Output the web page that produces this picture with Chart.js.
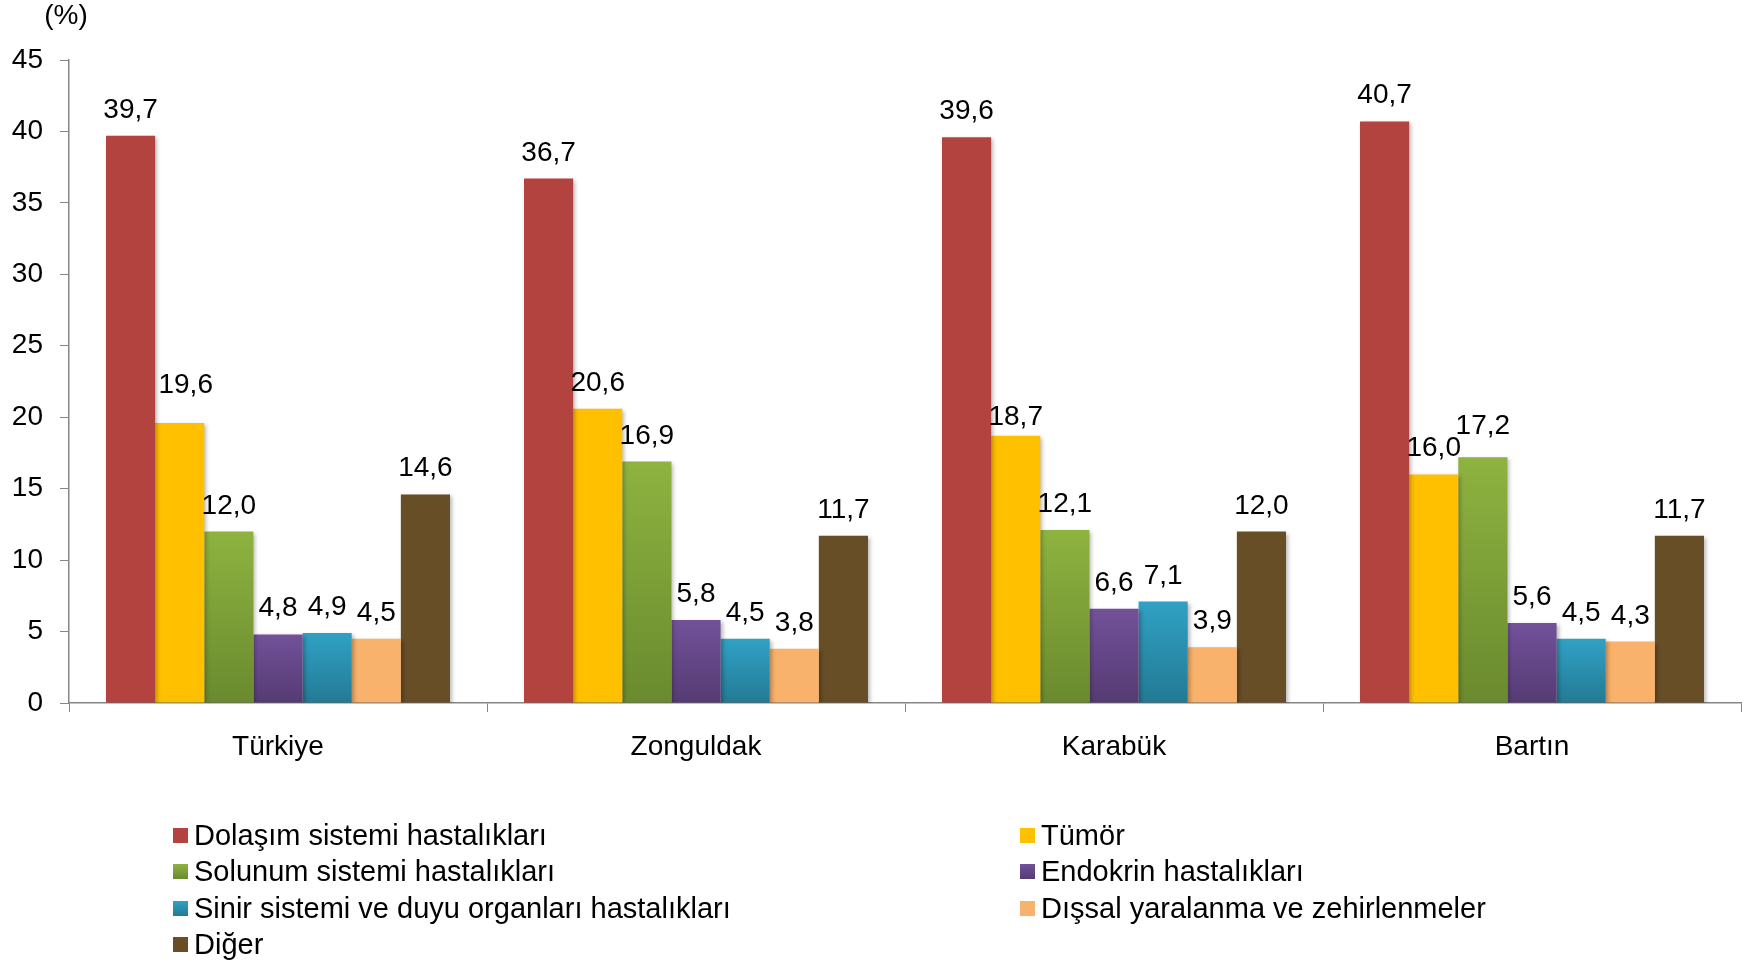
<!DOCTYPE html>
<html lang="tr">
<head>
<meta charset="utf-8">
<title>Ölüm nedenleri</title>
<script src="https://cdn.jsdelivr.net/npm/chart.js@4/dist/chart.umd.min.js"></script>
<style>
  html, body { margin: 0; padding: 0; background: #fff; }
  #kutu { position: relative; width: 1752px; height: 965px; }
  #legenda { position: absolute; left: 0; top: 0; width: 1752px; height: 965px; pointer-events: none;
             font-family: "Liberation Sans", Arial, sans-serif; font-size: 29px; color: #000; }
  .item { position: absolute; display: flex; align-items: center; white-space: nowrap; }
  .caixa { width: 15px; height: 15px; margin-right: 6px; }
</style>
</head>
<body>
<div id="kutu">
  <canvas id="myChart"></canvas>
  <div id="legenda"></div>
</div>
<script>
// dados
const iller = ['Türkiye', 'Zonguldak', 'Karabük', 'Bartın'];

const dolasim = [39.7, 36.7, 39.6, 40.7];
const tumor = [19.6, 20.6, 18.7, 16.0];
const solunum = [12.0, 16.9, 12.1, 17.2];
const endokrin = [4.8, 5.8, 6.6, 5.6];
const sinir = [4.9, 4.5, 7.1, 4.5];
const dissal = [4.5, 3.8, 3.9, 4.3];
const diger = [14.6, 11.7, 12.0, 11.7];

const nomes = [
  'Dolaşım sistemi hastalıkları',
  'Tümör',
  'Solunum sistemi hastalıkları',
  'Endokrin hastalıkları',
  'Sinir sistemi ve duyu organları hastalıkları',
  'Dışsal yaralanma ve zehirlenmeler',
  'Diğer'
];
const valores = [dolasim, tumor, solunum, endokrin, sinir, dissal, diger];

// cor de cima e de baixo (gradiente)
const coresTopo = ['#B3433F', '#FFC000', '#8EB340', '#72519A', '#30A1C4', '#F9B26B', '#674E27'];
const coresBase = ['#B3433F', '#FFC000', '#6A8A2E', '#553B72', '#237A94', '#F9B26B', '#674E27'];

const fonte = '"Liberation Sans", Arial, sans-serif';

function gradiente(i) {
  return function (c) {
    const chart = c.chart;
    if (!chart.chartArea || c.type !== 'data' || coresTopo[i] == coresBase[i]) return coresTopo[i];
    const y = chart.scales.y;
    const y1 = y.getPixelForValue(c.raw);
    const y0 = y.getPixelForValue(0);
    const g = chart.ctx.createLinearGradient(0, y1, 0, y0);
    g.addColorStop(0, coresTopo[i]);
    g.addColorStop(1, coresBase[i]);
    return g;
  };
}

const sombra = {
  id: 'sombra',
  beforeDatasetsDraw(chart) {
    const ctx = chart.ctx;
    ctx.save();
    ctx.shadowColor = 'rgba(0,0,0,0.28)';
    ctx.shadowBlur = 4;
    ctx.shadowOffsetX = 2;
    ctx.shadowOffsetY = 2;
  },
  afterDatasetsDraw(chart) {
    chart.ctx.restore();
  }
};

// alguns rótulos foram deslocados à mão no original ("serie-categoria": [dx, dy])
const ajustes = { '1-0': [6, -12], '1-2': [0, 7], '2-3': [0, -5] };

const rotulos = {
  id: 'rotulos',
  afterDraw(chart) {
    const ctx = chart.ctx;
    ctx.save();
    ctx.font = '28px ' + fonte;
    ctx.fillStyle = '#000';
    ctx.textAlign = 'center';
    ctx.textBaseline = 'alphabetic';
    chart.data.datasets.forEach((ds, i) => {
      chart.getDatasetMeta(i).data.forEach((bar, j) => {
        const txt = ds.data[j].toFixed(1).replace('.', ',');
        const a = ajustes[i + '-' + j] || [0, 0];
        ctx.fillText(txt, bar.x + a[0], bar.y - 18 + a[1]);
      });
    });
    // unidade
    ctx.textBaseline = 'middle';
    ctx.fillText('(%)', 66, 16);
    ctx.restore();
  }
};

const ctx = document.getElementById('myChart').getContext('2d');

const grafico1 = new Chart(ctx, {
  type: 'bar',
  data: {
    labels: iller,
    datasets: nomes.map((n, i) => ({
      label: n,
      data: valores[i],
      backgroundColor: gradiente(i),
      borderWidth: 0,
      barPercentage: 1,
      categoryPercentage: 0.823
    }))
  },
  options: {
    responsive: true,
    maintainAspectRatio: false,
    animation: false,
    layout: { padding: { top: 60, right: 11, bottom: 182, left: 0 } },
    plugins: {
      legend: { display: false },
      tooltip: { enabled: false }
    },
    scales: {
      x: {
        grid: { drawOnChartArea: false, drawTicks: true, tickLength: 9, color: '#868686', offset: true },
        border: { color: '#868686', width: 1.5 },
        ticks: { color: '#000', font: { family: fonte, size: 28 }, padding: 18 },
        afterFit(s) { s.height = 80; }
      },
      y: {
        min: 0,
        max: 45,
        ticks: { stepSize: 5, color: '#000', font: { family: fonte, size: 28 }, padding: 17 },
        grid: { drawOnChartArea: false, drawTicks: true, tickLength: 9, color: '#868686' },
        border: { color: '#868686', width: 1.5 },
        afterFit(s) { s.width = 69; }
      }
    }
  },
  plugins: [sombra, rotulos]
});

// legenda em duas colunas
const legenda = document.getElementById('legenda');
nomes.forEach((n, i) => {
  const col = i % 2;
  const lin = Math.floor(i / 2);
  const el = document.createElement('div');
  el.className = 'item';
  el.style.left = (col == 0 ? 173 : 1020) + 'px';
  el.style.top = (835 + lin * 36.5 - 17) + 'px';
  el.style.height = '34px';
  const cx = document.createElement('span');
  cx.className = 'caixa';
  cx.style.background = 'linear-gradient(' + coresTopo[i] + ',' + coresBase[i] + ')';
  const tx = document.createElement('span');
  tx.textContent = n;
  el.appendChild(cx);
  el.appendChild(tx);
  legenda.appendChild(el);
});
</script>
</body>
</html>
